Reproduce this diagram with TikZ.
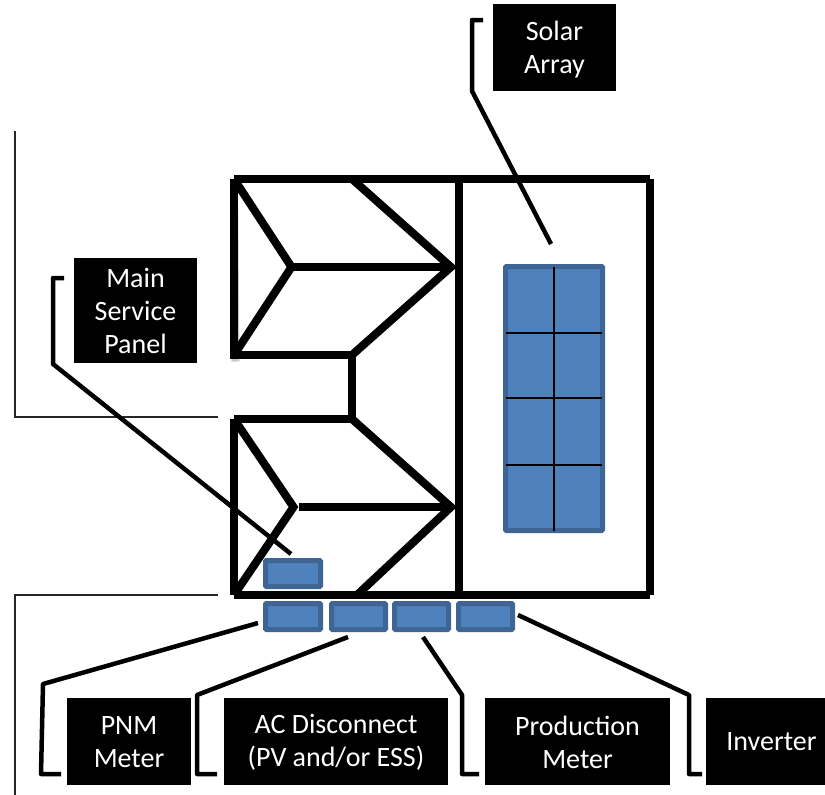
\documentclass[tikz,border=0pt]{standalone}
\usepackage{fontspec}
\setmainfont{Carlito}
\definecolor{panelfill}{HTML}{4F81BD}
\definecolor{panelline}{HTML}{3F6595}
\tikzset{
  x=1pt,y=-1pt,
  roof/.style={line width=8pt,line cap=butt,line join=miter,black},
  roofshade/.style={line width=8pt,line cap=butt,line join=miter,black!22},
  guide/.style={line width=1.4pt,black!85},
  callout/.style={line width=4.5pt,line join=round,black},
  grid line/.style={line width=1.6pt,black},
  panel/.style={draw=panelline,fill=panelfill,line width=5pt,rounded corners=0.8pt,inner sep=0pt},
  tag/.style={fill=black,inner sep=0pt},
  tagtext/.style={text=white,inner sep=0pt,align=center,font=\fontsize{28}{33}\selectfont},
}
\begin{document}
\begin{tikzpicture}
\useasboundingbox (0,0) rectangle (825,795);
% roof outline points
\coordinate (tl) at (234,179); \coordinate (tr) at (650,179);
\coordinate (bl) at (234,595); \coordinate (br) at (650,595);
\coordinate (ul) at (234,355); \coordinate (um) at (352,355);
\coordinate (ll) at (234,419); \coordinate (lm) at (352,419);
\coordinate (tm) at (352,179); \coordinate (bm) at (357,595);
\coordinate (dt) at (459,179); \coordinate (db) at (459,595);
\coordinate (uv) at (291.5,267); \coordinate (lv) at (293.5,507);
\coordinate (us) at (292,267); \coordinate (ls) at (299,507);
\coordinate (ur) at (451,267); \coordinate (lr) at (451,507);
\coordinate (ue) at (453,267); \coordinate (le) at (453,507);
% soft shadows
\begin{scope}[shift={(1.5,2.5)}]
\draw[roofshade] (tl) -- (tr); \draw[roofshade] (tr) -- (br); \draw[roofshade] (bl) -- (br);
\draw[roofshade] (tl) -- (234,359); \draw[roofshade] (ll) -- (bl);
\draw[roofshade] (ul) -- (um); \draw[roofshade] (ll) -- (lm); \draw[roofshade] (um) -- (lm);
\draw[roofshade] (dt) -- (db);
\draw[roofshade] (tl) -- (uv) -- (ul); \draw[roofshade] (ll) -- (lv) -- (bl);
\draw[roofshade] (tm) -- (ur) -- (um); \draw[roofshade] (lm) -- (lr) -- (bm);
\draw[roofshade] (us) -- (ue); \draw[roofshade] (ls) -- (le);
\end{scope}
% thin guides
\coordinate (ga) at (15,131); \coordinate (gb) at (15,417); \coordinate (gc) at (218,417);
\coordinate (gd) at (218,595); \coordinate (ge) at (15,595); \coordinate (gf) at (15,795);
\draw[guide] (ga) -- (gb) -- (gc);
\draw[guide] (gd) -- (ge) -- (gf);
% roof
\draw[roof] (tl) -- (tr); \draw[roof] (tr) -- (br); \draw[roof] (bl) -- (br);
\draw[roof] (tl) -- (234,359); \draw[roof] (ll) -- (bl);
\draw[roof] (ul) -- (um); \draw[roof] (ll) -- (lm); \draw[roof] (um) -- (lm);
\draw[roof] (dt) -- (db);
\draw[roof] (tl) -- (uv) -- (ul); \draw[roof] (ll) -- (lv) -- (bl);
\draw[roof] (tm) -- (ur) -- (um); \draw[roof] (lm) -- (lr) -- (bm);
\draw[roof] (us) -- (ue); \draw[roof] (ls) -- (le);
% equipment
\node[panel,minimum width=97pt,minimum height=264pt] (array) at (554,398.5) {};
\node[panel,minimum width=55pt,minimum height=26pt] (msp) at (293,573.5) {};
\node[panel,minimum width=55pt,minimum height=26pt] (pnm) at (293,616.5) {};
\node[panel,minimum width=54pt,minimum height=26pt] (acd) at (358.5,616.5) {};
\node[panel,minimum width=54pt,minimum height=26pt] (prod) at (421.5,616.5) {};
\node[panel,minimum width=54pt,minimum height=26pt] (inv) at (485.5,616.5) {};
% array grid
\coordinate (av1) at (554,267); \coordinate (av2) at (554,531);
\foreach \yy in {333,398,465}{\draw[grid line] (506,\yy) -- (602,\yy);}
\draw[grid line] (av1) -- (av2);
% tags
\node[tag,minimum width=123pt,minimum height=87pt] (tsolar) at (554.5,47.5) {};
\node[tag,minimum width=123pt,minimum height=105pt] (tmain) at (135.5,310.5) {};
\node[tag,minimum width=124pt,minimum height=87pt] (tpnm) at (129,741.5) {};
\node[tag,minimum width=224pt,minimum height=87pt] (tacd) at (336,741.5) {};
\node[tag,minimum width=185pt,minimum height=87pt] (tprod) at (577.5,741.5) {};
\node[tag,minimum width=119pt,minimum height=87pt] (tinv) at (765.5,741.5) {};
\node[tagtext] (lsolar) at (554.5,49.5) {Solar\\Array};
\node[tagtext] (lmain) at (135.5,311) {Main\\Service\\Panel};
\node[tagtext] (lpnm) at (129,742) {PNM\\Meter};
\node[tagtext] (lacd) at (336,742) {AC Disconnect\\(PV and/or ESS)};
\node[tagtext] (lprod) at (577.5,742) {Production\\Meter};
\node[tagtext] (linv) at (771.5,742) {Inverter};
% callouts
\coordinate (c1a) at (483,20); \coordinate (c1b) at (472,20); \coordinate (c1c) at (472,91); \coordinate (c1d) at (551,244);
\draw[callout] (c1a) -- (c1b) -- (c1c) -- (c1d);
\coordinate (c2a) at (64,278); \coordinate (c2b) at (53,278); \coordinate (c2c) at (53,364); \coordinate (c2d) at (291,554);
\draw[callout] (c2a) -- (c2b) -- (c2c) -- (c2d);
\coordinate (c3a) at (61,774); \coordinate (c3b) at (41,774); \coordinate (c3c) at (43,684); \coordinate (c3d) at (258,623);
\draw[callout] (c3a) -- (c3b) -- (c3c) -- (c3d);
\coordinate (c4a) at (217,774); \coordinate (c4b) at (197,774); \coordinate (c4c) at (197,695); \coordinate (c4d) at (348,637);
\draw[callout] (c4a) -- (c4b) -- (c4c) -- (c4d);
\coordinate (c5a) at (479,774); \coordinate (c5b) at (462,774); \coordinate (c5c) at (462,695); \coordinate (c5d) at (423,637);
\draw[callout] (c5a) -- (c5b) -- (c5c) -- (c5d);
\coordinate (c6a) at (702,774); \coordinate (c6b) at (689,774); \coordinate (c6c) at (689,695); \coordinate (c6d) at (518,615);
\draw[callout] (c6a) -- (c6b) -- (c6c) -- (c6d);
\end{tikzpicture}
\end{document}
